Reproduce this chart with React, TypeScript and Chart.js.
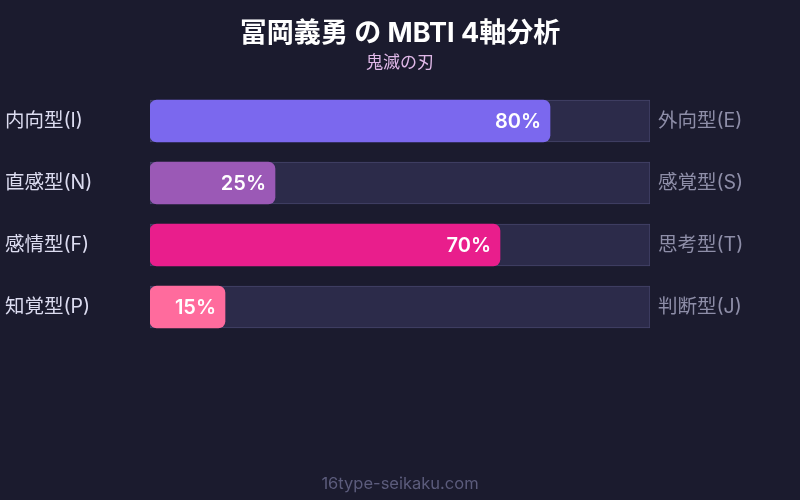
import { useEffect, useRef } from "react";
import { Chart, type ChartConfiguration, type Plugin } from "chart.js/auto";

const leftLabels = ["内向型(I)", "直感型(N)", "感情型(F)", "知覚型(P)"];
const rightLabels = ["外向型(E)", "感覚型(S)", "思考型(T)", "判断型(J)"];
const scores = [80, 25, 70, 15];
const trackValues = [100, 100, 100, 100];
const barColors = ["#7b68ee", "#9b59b6", "#e91e8c", "#ff6b9d"];

const FONT = "Inter, 'Noto Sans CJK JP', sans-serif";
const BG = "#1b1b2e";

const decorPlugin: Plugin<"bar"> = {
  id: "decor",
  beforeDraw(chart) {
    const ctx = chart.ctx;
    ctx.save();
    ctx.fillStyle = BG;
    ctx.fillRect(0, 0, chart.width, chart.height);
    ctx.restore();
  },
  afterDraw(chart) {
    const ctx = chart.ctx;
    ctx.save();
    ctx.textAlign = "center";
    ctx.textBaseline = "middle";
    ctx.fillStyle = "#ffffff";
    ctx.font = `bold 27px ${FONT}`;
    ctx.fillText("冨岡義勇 の MBTI 4軸分析", chart.width / 2, 34);
    ctx.fillStyle = "#e0b8e8";
    ctx.font = `17px ${FONT}`;
    ctx.fillText("鬼滅の刃", chart.width / 2, 63);
    ctx.fillStyle = "#5c5c7c";
    ctx.font = `16.5px ${FONT}`;
    ctx.fillText("16type-seikaku.com", chart.width / 2, 484);

    // value labels at the end of each bar
    const meta = chart.getDatasetMeta(0);
    ctx.fillStyle = "#ffffff";
    ctx.font = `600 20px ${FONT}`;
    ctx.textAlign = "right";
    meta.data.forEach((bar, i) => {
      const { x, y } = bar.getProps(["x", "y"], true) as { x: number; y: number };
      ctx.fillText(`${scores[i]}%`, x - 9, y + 1);
    });
    ctx.restore();
  },
};

export default function App() {
  const canvasRef = useRef<HTMLCanvasElement | null>(null);
  const chartRef = useRef<Chart<"bar"> | null>(null);

  useEffect(() => {
    document.body.style.margin = "0";
    const canvas = canvasRef.current;
    if (!canvas) return;

    const config: ChartConfiguration<"bar"> = {
      type: "bar",
      data: {
        labels: leftLabels,
        datasets: [
          {
            label: "score",
            data: scores,
            backgroundColor: barColors,
            borderRadius: 7,
            borderSkipped: false,
            borderWidth: 0,
            barThickness: 42,
            grouped: false,
          },
          {
            label: "track",
            data: trackValues,
            backgroundColor: "#2c2b4a",
            borderColor: "#45446a",
            borderWidth: 1,
            borderSkipped: false,
            borderRadius: 0,
            barThickness: 42,
            grouped: false,
          },
        ],
      },
      options: {
        indexAxis: "y",
        responsive: true,
        maintainAspectRatio: false,
        animation: false,
        layout: { padding: { top: 90, bottom: 162, left: 5, right: 0 } },
        scales: {
          x: { display: false, min: 0, max: 100 },
          y: {
            position: "left",
            grid: { display: false, drawTicks: false },
            border: { display: false },
            afterFit: (scale) => {
              scale.width = 145;
            },
            ticks: {
              crossAlign: "far",
              color: "#dcdcf0",
              font: { size: 19.5, family: FONT },
            },
          },
          y2: {
            type: "category",
            labels: rightLabels,
            position: "right",
            offset: true,
            grid: { display: false, drawTicks: false },
            border: { display: false },
            afterFit: (scale) => {
              scale.width = 150;
            },
            ticks: {
              padding: 8,
              crossAlign: "near",
              color: "#8e8ea8",
              font: { size: 19.5, family: FONT },
            },
          },
        },
        plugins: {
          legend: { display: false },
          tooltip: { enabled: false },
        },
      },
      plugins: [decorPlugin],
    };

    chartRef.current = new Chart(canvas, config);
    return () => {
      if (chartRef.current) {
        chartRef.current.destroy();
        chartRef.current = null;
      }
    };
  }, []);

  return (
    <div style={{ width: 800, height: 500, background: BG, position: "relative" }}>
      <canvas ref={canvasRef} />
    </div>
  );
}
